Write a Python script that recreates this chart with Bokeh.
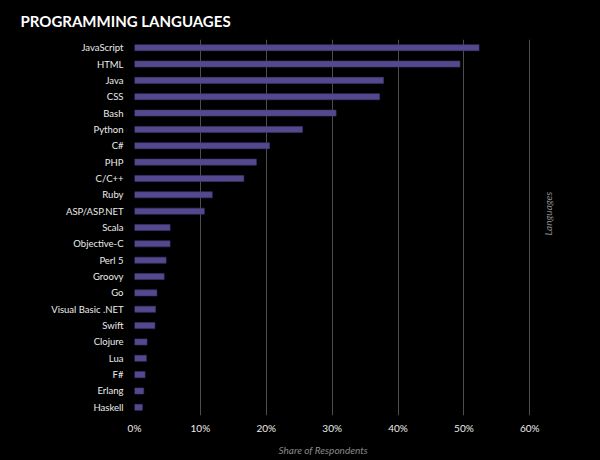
from bokeh.plotting import figure
from bokeh.models import (ColumnDataSource, FactorRange, Range1d, FixedTicker,
                          PrintfTickFormatter, Title, Label, GlobalInlineStyleSheet)
from bokeh.embed import file_html
from bokeh.resources import INLINE
import math

languages = ["JavaScript", "HTML", "Java", "CSS", "Bash", "Python", "C#", "PHP",
             "C/C++", "Ruby", "ASP/ASP.NET", "Scala", "Objective-C", "Perl 5",
             "Groovy", "Go", "Visual Basic .NET", "Swift", "Clojure", "Lua", "F#",
             "Erlang", "Haskell"]
share = [52.3, 49.4, 37.8, 37.2, 30.6, 25.5, 20.5, 18.5, 16.6, 11.8, 10.6, 5.4,
         5.4, 4.8, 4.5, 3.4, 3.2, 3.1, 1.9, 1.8, 1.6, 1.4, 1.2]
x_ticks = [0, 10, 20, 30, 40, 50, 60]

title_text = "PROGRAMMING LANGUAGES"
x_title = "Share of Respondents"
y_title = "Languages"

FONT = "Lato"
BG = "#000000"

src = ColumnDataSource(dict(lang=languages, share=share))

p = figure(width=600, height=460, output_backend="svg", toolbar_location=None,
           y_range=FactorRange(factors=list(reversed(languages)), range_padding=0),
           x_range=Range1d(0, 63.6),
           min_border_left=134, min_border_right=47, min_border_top=38,
           min_border_bottom=44)
p.stylesheets = [GlobalInlineStyleSheet(css="html, body { background: #000000; }")]

p.background_fill_color = BG
p.border_fill_color = BG
p.outline_line_color = None

p.hbar(y="lang", right="share", left=0, height=0.37, source=src,
       fill_color="#55488f", line_color="#3f356e", line_width=0.6)

# grid
p.ygrid.grid_line_color = None
p.xgrid.grid_line_color = "#4d4d4d"
p.xgrid.grid_line_width = 1
p.xaxis.ticker = FixedTicker(ticks=x_ticks)
p.xaxis.formatter = PrintfTickFormatter(format="%d%%")

for ax in (p.xaxis[0], p.yaxis[0]):
    ax.axis_line_color = None
    ax.major_tick_line_color = None
    ax.minor_tick_line_color = None
    ax.major_label_text_font = FONT
    ax.major_label_text_color = "#ececec"

p.xaxis.major_label_text_font_size = "10px"
p.yaxis.major_label_text_font_size = "9.5px"
p.xaxis.major_label_standoff = 0
p.yaxis.major_label_standoff = 5

# chart title
p.add_layout(Title(text=title_text, text_font=FONT, text_font_size="15px",
                   text_font_style="bold", text_color="#ffffff", align="left",
                   offset=-114, standoff=19), "above")
# x axis title
p.add_layout(Title(text=x_title, text_font=FONT, text_font_size="10px",
                   text_font_style="italic", text_color="#8a8a8a",
                   align="left", offset=144, standoff=10), "below")
# right side title (reads bottom-to-top)
p.add_layout(Label(x=62.75, y=12.35, text=y_title, text_font=FONT,
                   text_font_size="10px", text_font_style="italic",
                   text_color="#8a8a8a", text_align="center",
                   text_baseline="middle", angle=math.pi / 2))

open("out.html", "w").write(file_html(p, INLINE))
